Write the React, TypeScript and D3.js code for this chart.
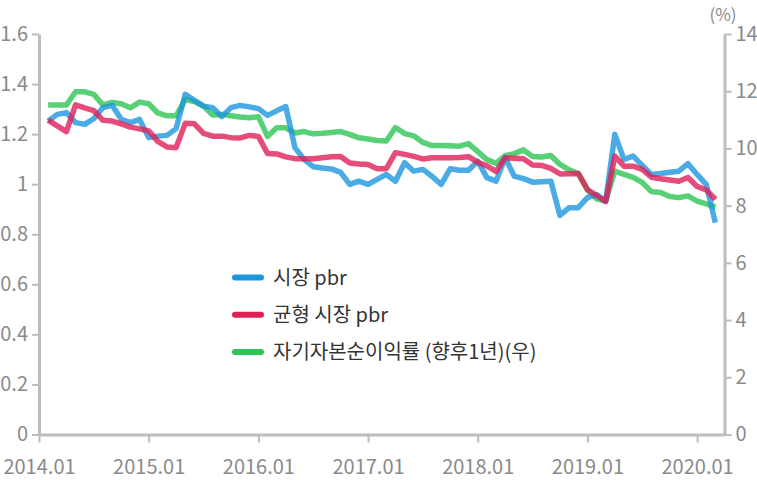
import React, { useEffect, useRef } from 'react';
import * as d3 from 'd3';

// monthly data, 2014.02 ~ 2020.03
const startYear = 2014;
const startMonth = 2;

const marketPbr = [
  1.252, 1.279, 1.286, 1.246, 1.239, 1.262, 1.306, 1.315, 1.259, 1.246, 1.259, 1.186,
  1.192, 1.195, 1.222, 1.359, 1.335, 1.312, 1.306, 1.270, 1.306, 1.315, 1.309, 1.302,
  1.275, 1.293, 1.310, 1.146, 1.099, 1.070, 1.065, 1.061, 1.047, 0.999, 1.012, 0.999,
  1.019, 1.039, 1.012, 1.086, 1.052, 1.059, 1.031, 0.999, 1.062, 1.056, 1.056, 1.092,
  1.026, 1.012, 1.106, 1.032, 1.022, 1.008, 1.010, 1.012, 0.875, 0.906, 0.906, 0.946,
  0.959, 0.932, 1.199, 1.099, 1.112, 1.075, 1.039, 1.043, 1.048, 1.052, 1.082, 1.039,
  0.999, 0.846,
];

const equilibriumPbr = [
  1.256, 1.233, 1.210, 1.317, 1.305, 1.294, 1.255, 1.252, 1.241, 1.228, 1.221, 1.213,
  1.171, 1.149, 1.146, 1.243, 1.241, 1.203, 1.192, 1.192, 1.186, 1.185, 1.195, 1.191,
  1.123, 1.121, 1.109, 1.102, 1.102, 1.102, 1.106, 1.110, 1.111, 1.085, 1.081, 1.079,
  1.062, 1.062, 1.126, 1.119, 1.111, 1.101, 1.106, 1.106, 1.106, 1.107, 1.110, 1.087,
  1.073, 1.051, 1.105, 1.104, 1.102, 1.077, 1.075, 1.063, 1.041, 1.042, 1.043, 0.979,
  0.955, 0.931, 1.112, 1.072, 1.072, 1.059, 1.028, 1.022, 1.017, 1.012, 1.027, 0.991,
  0.977, 0.939,
];

const roeForward = [
  11.52, 11.52, 11.52, 11.98, 11.98, 11.89, 11.52, 11.61, 11.56, 11.42, 11.62, 11.56,
  11.24, 11.14, 11.14, 11.71, 11.64, 11.48, 11.17, 11.19, 11.14, 11.10, 11.07, 11.11,
  10.42, 10.72, 10.72, 10.54, 10.59, 10.51, 10.53, 10.56, 10.59, 10.49, 10.37, 10.33,
  10.28, 10.26, 10.73, 10.52, 10.44, 10.21, 10.10, 10.10, 10.09, 10.08, 10.17, 9.89,
  9.61, 9.48, 9.75, 9.82, 9.95, 9.72, 9.70, 9.75, 9.44, 9.25, 9.12, 8.55,
  8.24, 8.16, 9.21, 9.09, 8.99, 8.81, 8.49, 8.46, 8.32, 8.28, 8.34, 8.16,
  8.06, 7.95,
];

const xTickLabels = ['2014.01', '2015.01', '2016.01', '2017.01', '2018.01', '2019.01', '2020.01'];
const leftTicks = [0, 0.2, 0.4, 0.6, 0.8, 1, 1.2, 1.4, 1.6];
const rightTicks = [0, 2, 4, 6, 8, 10, 12, 14];

const seriesNames = ['시장 pbr', '균형 시장 pbr', '자기자본순이익률 (향후1년)(우)'];
const seriesColors = ['#1e96dd', '#e01f57', '#2ec453'];

const App: React.FC = () => {
  const svgRef = useRef<SVGSVGElement>(null);

  useEffect(() => {
    if (!svgRef.current) return;
    document.body.style.margin = '0';
    const svg = d3.select(svgRef.current);
    svg.selectAll('*').remove();

    const width = 757;
    const height = 480;
    const left = 39;
    const right = 724.5;
    const top = 34;
    const bottom = 434.5;

    const axisColor = '#bdbdbd';
    const labelColor = '#8a8a8a';
    const font = '"Noto Sans CJK KR", "Noto Sans", sans-serif';

    svg.attr('width', width).attr('height', height);

    // month index: 0 = 2014.01
    const x = d3.scaleLinear().domain([0, 75]).range([left, right]);
    const yLeft = d3.scaleLinear().domain([0, 1.6]).range([bottom, top]);
    const yRight = d3.scaleLinear().domain([0, 14]).range([bottom, top]);

    const monthIdx = (i: number) => (startYear - 2014) * 12 + (startMonth - 1) + i;

    const styleAxis = (g: d3.Selection<SVGGElement, unknown, null, undefined>) => {
      g.select('.domain').attr('stroke', axisColor).attr('stroke-width', 3);
      g.selectAll('.tick line').attr('stroke', axisColor).attr('stroke-width', 2);
      g.selectAll('.tick text')
        .attr('fill', labelColor)
        .attr('font-size', 20)
        .attr('font-family', font);
    };

    // left axis
    svg.append('g')
      .attr('transform', `translate(${left},0)`)
      .call(d3.axisLeft(yLeft).tickValues(leftTicks).tickFormat(d => d3.format('')(d as number)).tickSize(7).tickSizeOuter(0).tickPadding(4))
      .call(styleAxis);

    // right axis
    svg.append('g')
      .attr('transform', `translate(${right},0)`)
      .call(d3.axisRight(yRight).tickValues(rightTicks).tickSize(7).tickSizeOuter(0).tickPadding(4))
      .call(styleAxis);

    // bottom axis
    svg.append('g')
      .attr('transform', `translate(0,${bottom})`)
      .call(d3.axisBottom(x)
        .tickValues(xTickLabels.map((_, i) => i * 12))
        .tickFormat((_, i) => xTickLabels[i])
        .tickSize(8).tickSizeOuter(0).tickPadding(17))
      .call(styleAxis);

    // (%) unit
    svg.append('text')
      .attr('x', 723)
      .attr('y', 21)
      .attr('text-anchor', 'middle')
      .attr('fill', labelColor)
      .attr('font-size', 17)
      .attr('font-family', font)
      .text('(%)');

    const lineLeft = d3.line<number>()
      .x((_, i) => x(monthIdx(i)))
      .y(d => yLeft(d));
    const lineRight = d3.line<number>()
      .x((_, i) => x(monthIdx(i)))
      .y(d => yRight(d));

    const drawLine = (path: string | null, color: string) => {
      svg.append('path')
        .attr('d', path)
        .attr('fill', 'none')
        .attr('stroke', color)
        .attr('stroke-width', 5.5)
        .attr('stroke-linejoin', 'round')
        .attr('opacity', 0.8);
    };

    drawLine(lineRight(roeForward), seriesColors[2]);
    drawLine(lineLeft(marketPbr), seriesColors[0]);
    drawLine(lineLeft(equilibriumPbr), seriesColors[1]);

    // legend
    const legend = svg.append('g').attr('transform', 'translate(233,277.5)');
    seriesNames.forEach((name, i) => {
      const row = legend.append('g').attr('transform', `translate(0,${i * 37.3})`);
      row.append('line')
        .attr('x1', 2).attr('x2', 28)
        .attr('y1', 0).attr('y2', 0)
        .attr('stroke', seriesColors[i])
        .attr('stroke-width', 6)
        .attr('stroke-linecap', 'round');
      row.append('text')
        .attr('x', 40)
        .attr('y', 0)
        .attr('dy', '0.35em')
        .attr('fill', '#333')
        .attr('font-size', 20)
        .attr('font-family', font)
        .text(name);
    });
  }, []);

  return (
    <div style={{ position: 'absolute', left: 0, top: 0 }}>
      <svg ref={svgRef}></svg>
    </div>
  );
};

export default App;
